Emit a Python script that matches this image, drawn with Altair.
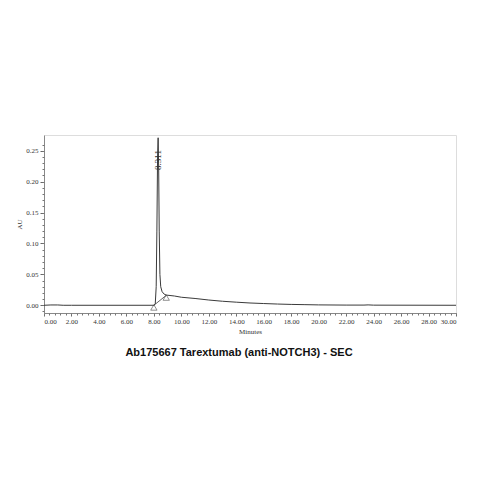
import altair as alt
import pandas as pd

# Chromatogram trace (minutes, AU)
times = [0.0, 0.5, 1.0, 1.4, 2.0, 8.0, 8.1, 8.17, 8.22, 8.27, 8.311, 8.35, 8.39, 8.44, 8.5,
         8.6, 8.75, 8.9, 9.5, 10.0, 11.0, 12.0, 13.0, 14.0, 15.0, 16.0, 17.0, 18.0, 19.0,
         20.0, 22.0, 23.3, 23.6, 24.0, 30.0]
au = [0.0, 0.0005, 0.0005, 0.0, 0.0, 0.0, 0.002, 0.03, 0.12, 0.24, 0.271, 0.22, 0.12, 0.05, 0.03,
      0.022, 0.018, 0.0165, 0.015, 0.013, 0.011, 0.0085, 0.0065, 0.005, 0.0037, 0.0028, 0.002,
      0.0014, 0.001, 0.0006, 0.0003, 0.0003, 0.0006, 0.0002, 0.0]

# Integration baseline (peak start / end)
base_t = [8.0, 8.9]
base_au = [0.0, 0.016]
# Triangle markers
tri_t = [8.0, 8.9]
tri_au = [-0.0035, 0.0125]

peak_t = [8.311]
peak_au = [0.235]
peak_label = ["8.311"]

x_major = [0, 2, 4, 6, 8, 10, 12, 14, 16, 18, 20, 22, 24, 26, 28, 30]
x_minor = [round(i * 0.4, 2) for i in range(0, 76)]
y_major = [0.0, 0.05, 0.10, 0.15, 0.20, 0.25]
y_minor = [round(-0.01 + i * 0.01, 2) for i in range(0, 28)]

trace = pd.DataFrame({"t": times, "au": au})
base = pd.DataFrame({"t": base_t, "au": base_au})
tri = pd.DataFrame({"t": tri_t, "au": tri_au})
lab = pd.DataFrame({"t": peak_t, "au": peak_au, "label": peak_label})

XD = [0, 30]
YD = [-0.0125, 0.2755]
serif = "Liberation Serif"
ink = "#3a3a3a"

xs = alt.Scale(domain=XD, nice=False, zero=False)
ys = alt.Scale(domain=YD, nice=False, zero=False)

x_main = alt.X("t:Q", scale=xs,
               axis=alt.Axis(title="Minutes", orient="bottom", values=x_major, format=".2f",
                             labelOverlap=False, labelFont=serif, labelFontSize=7,
                             labelColor="#333", titleFont=serif, titleFontSize=7,
                             titleFontWeight="normal", titleColor="#333", titlePadding=3,
                             tickSize=3, tickColor="#666", domainColor="#888", grid=False,
                             labelPadding=1))
y_main = alt.Y("au:Q", scale=ys,
               axis=alt.Axis(title="AU", orient="left", values=y_major, format=".2f",
                             labelOverlap=False, labelFont=serif, labelFontSize=7,
                             labelColor="#333", titleFont=serif, titleFontSize=7,
                             titleFontWeight="normal", titleColor="#333", titlePadding=3,
                             tickSize=4, tickColor="#666", domainColor="#888", grid=False,
                             labelPadding=2))
x_min = alt.X("t:Q", scale=xs,
              axis=alt.Axis(title=None, orient="bottom", values=x_minor, labels=False,
                            domain=False, tickSize=2, tickColor="#777", grid=False))
y_min = alt.Y("au:Q", scale=ys,
              axis=alt.Axis(title=None, orient="left", values=y_minor, labels=False,
                            domain=False, tickSize=2, tickColor="#777", grid=False))
x_none = alt.X("t:Q", scale=xs, axis=None)
y_none = alt.Y("au:Q", scale=ys, axis=None)

line = alt.Chart(trace).mark_line(color=ink, strokeWidth=1).encode(x=x_main, y=y_main)
bl = alt.Chart(base).mark_line(color=ink, strokeWidth=0.8).encode(x=x_min, y=y_min)
tris = alt.Chart(tri).mark_point(shape="triangle-up", size=40, filled=False,
                                 color=ink, strokeWidth=0.8).encode(x=x_none, y=y_none)
txt = alt.Chart(lab).mark_text(angle=270, font=serif, fontSize=9, color="#333",
                               align="center", baseline="middle").encode(
    x=x_none, y=y_none, text="label:N")

chart = alt.layer(line, bl, tris, txt).resolve_axis(
    x="independent", y="independent"
).properties(
    width=412, height=178,
    autosize=alt.AutoSizeParams(type="none"),
    padding={"left": 36, "top": 127, "right": 15, "bottom": 158},
    title=alt.TitleParams("Ab175667 Tarextumab (anti-NOTCH3) - SEC", orient="bottom",
                          anchor="middle", font="Liberation Sans", fontSize=11,
                          fontWeight="bold", color="#111", offset=13, dx=-11),
).configure_view(stroke="#888", strokeWidth=1).configure(background="white")

chart.save("out.html", embed_options={"renderer": "svg", "actions": False})
